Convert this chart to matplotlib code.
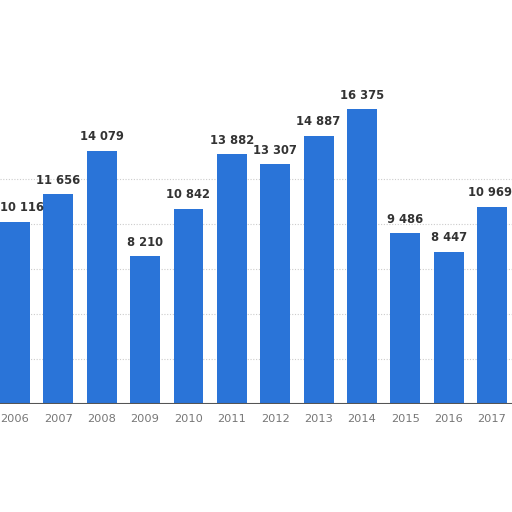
import matplotlib
matplotlib.use("Agg")
import matplotlib.pyplot as plt

years = ["2006", "2007", "2008", "2009", "2010", "2011", "2012", "2013", "2014", "2015", "2016", "2017"]
values = [10116, 11656, 14079, 8210, 10842, 13882, 13307, 14887, 16375, 9486, 8447, 10969]
grid_values = [2500, 5000, 7500, 10000, 12500]

fig = plt.figure(figsize=(5.12, 5.12), dpi=100)
ax = fig.add_axes([0, 108 / 512, 1, 404 / 512])
x = list(range(len(years)))
ax.bar(x, values, width=0.69, color="#2a74d8", zorder=3)
xmin, xmax = -0.346, 11.46
ax.set_xlim(xmin, xmax)
ax.set_ylim(0, 22444)

for g in grid_values:
    ax.axhline(g, color="#cccccc", linestyle=(0, (1, 1.5)), linewidth=0.8, zorder=1)
ax.axhline(0, color="#555555", linewidth=1.5, zorder=4)

n = len(values)
for i, (xi, v) in enumerate(zip(x, values)):
    label = f"{v:,}".replace(",", " ")
    if i == 0:
        tx, ha = xmin + 0.01, "left"
    elif i == n - 1:
        tx, ha = xmax - 0.01, "right"
    else:
        tx, ha = xi, "center"
    ax.text(tx, v + 420, label, ha=ha, va="bottom",
            fontsize=8.3, fontweight="bold", color="#333333", zorder=5)

ax.set_xticks(x)
ax.set_xticklabels(years, fontsize=8.2, color="#777777")
ax.tick_params(axis="x", length=0, pad=7)
ax.set_yticks([])
for s in ax.spines.values():
    s.set_visible(False)

fig.savefig("out.png", dpi=100)
